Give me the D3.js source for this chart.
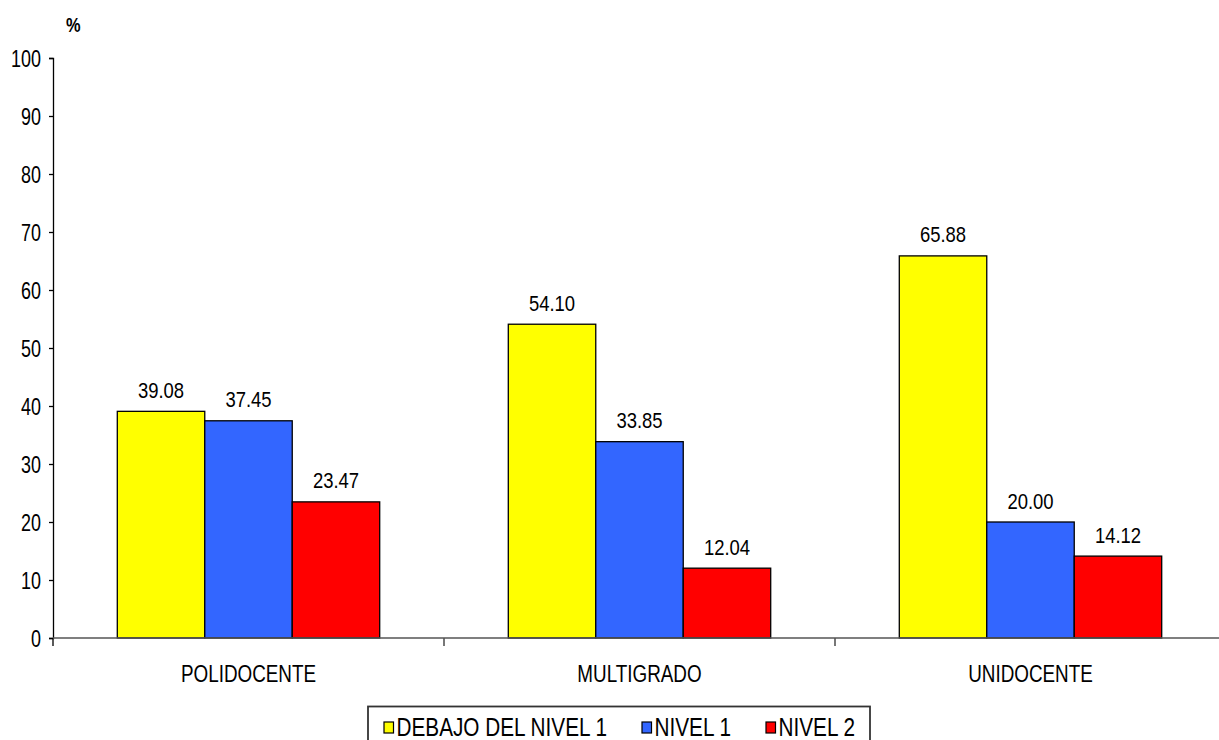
<!DOCTYPE html>
<html>
<head>
<meta charset="utf-8">
<script src="https://cdn.jsdelivr.net/npm/d3@7/dist/d3.min.js"></script>
<style>
  html, body { margin: 0; padding: 0; background: #fff; }
  svg { display: block; }
  text { font-family: "Liberation Sans", Arial, sans-serif; fill: #000; }
</style>
</head>
<body>
<svg id="chart" width="1219" height="740"></svg>
<script>
const categories = ["POLIDOCENTE", "MULTIGRADO", "UNIDOCENTE"];
const seriesNames = ["DEBAJO DEL NIVEL 1", "NIVEL 1", "NIVEL 2"];
const debajoNivel1 = [39.08, 54.10, 65.88];
const nivel1 = [37.45, 33.85, 20.00];
const nivel2 = [23.47, 12.04, 14.12];
const seriesColors = ["#FFFF00", "#3366FF", "#FF0000"];
const yTicks = [0, 10, 20, 30, 40, 50, 60, 70, 80, 90, 100];
const yLabel = "%";

const seriesValues = [debajoNivel1, nivel1, nivel2];
const svg = d3.select("#chart");

const x0 = d3.scaleBand().domain(categories).range([53, 1226]).paddingInner(0).paddingOuter(0);
const x1 = d3.scaleBand().domain(seriesNames).range([0, x0.bandwidth()]).paddingInner(0).paddingOuter(0.735);
const y = d3.scaleLinear().domain([0, 100]).range([638, 58]);

function addText(g, x, yy, str, size, sx, anchor, weight) {
  const t = g.append("g").attr("transform", `translate(${x},${yy}) scale(${sx},1)`);
  t.append("text").attr("text-anchor", anchor || "start")
    .attr("font-size", size).attr("font-weight", weight || "normal").text(str);
  return t;
}

// y axis
const yAxis = svg.append("g").attr("transform", "translate(53,0)")
  .call(d3.axisLeft(y).tickValues(yTicks).tickSize(4).tickFormat(""));
yAxis.select(".domain").attr("stroke", "#000").attr("stroke-width", 1.3);
yAxis.selectAll(".tick line").attr("stroke", "#000").attr("stroke-width", 1.3);
yTicks.forEach(v => addText(svg, 41, y(v) + 9, String(v), 23, 0.78, "end"));
svg.append("line").attr("x1", 53).attr("x2", 53).attr("y1", y(0)).attr("y2", y(0) + 8)
  .attr("stroke", "#000").attr("stroke-width", 1.3);

// % label
addText(svg, 66, 32, yLabel, 20, 0.82, "start", "bold");

// bars
const groups = svg.append("g").selectAll("g.grp").data(categories).join("g")
  .attr("class", "grp").attr("transform", d => `translate(${x0(d)},0)`);
groups.each(function(cat, ci) {
  const g = d3.select(this);
  seriesNames.forEach((s, si) => {
    const v = seriesValues[si][ci];
    g.append("rect")
      .attr("x", x1(s)).attr("width", x1.bandwidth())
      .attr("y", y(v)).attr("height", y(0) - y(v))
      .attr("fill", seriesColors[si]).attr("stroke", "#000").attr("stroke-width", 1.3);
    addText(g, x1(s) + x1.bandwidth() / 2, y(v) - 13.5, v.toFixed(2), 22, 0.84, "middle");
  });
});

// x axis
svg.append("line").attr("x1", 53).attr("x2", 1226).attr("y1", y(0)).attr("y2", y(0))
  .attr("stroke", "#555").attr("stroke-width", 1.6);
categories.forEach((c, i) => {
  if (i > 0) {
    svg.append("line").attr("x1", x0(c)).attr("x2", x0(c)).attr("y1", y(0)).attr("y2", y(0) + 8)
      .attr("stroke", "#555").attr("stroke-width", 1.6);
  }
  addText(svg, x0(c) + x0.bandwidth() / 2, 682, c, 23, 0.82, "middle");
});

// legend
const leg = svg.append("g");
leg.append("rect").attr("x", 368).attr("y", 706.5).attr("width", 502).attr("height", 50)
  .attr("fill", "#fff").attr("stroke", "#333").attr("stroke-width", 1.8);
const legX = [384, 642, 766];
seriesNames.forEach((s, i) => {
  leg.append("rect").attr("x", legX[i]).attr("y", 722).attr("width", 9.5).attr("height", 11)
    .attr("fill", seriesColors[i]).attr("stroke", "#000").attr("stroke-width", 1.2);
  addText(leg, legX[i] + 12.5, 736, s, 25, 0.83, "start");
});
</script>
</body>
</html>
